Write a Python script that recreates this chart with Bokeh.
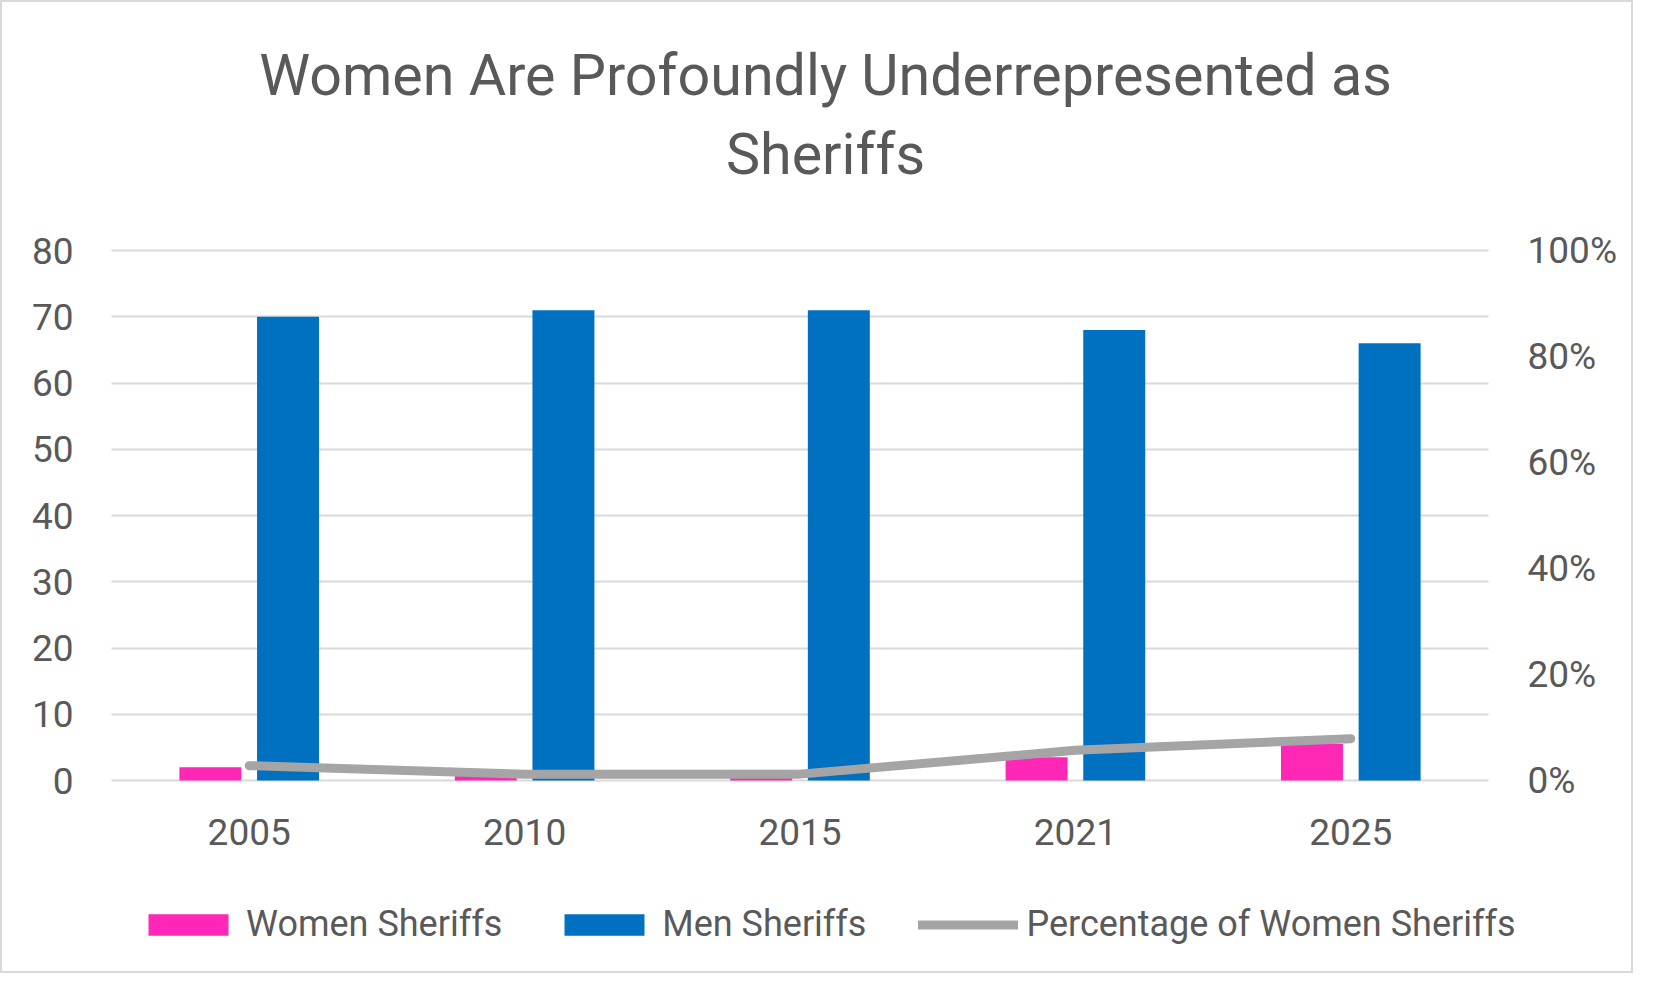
from bokeh.plotting import figure
from bokeh.models import (FactorRange, Range1d, LinearAxis, SingleIntervalTicker, Grid,
                          PrintfTickFormatter, Legend, LegendItem, Label, ColumnDataSource)
from bokeh.transform import dodge
from bokeh.embed import file_html
from bokeh.resources import INLINE

# ---- data ----
years = ["2005", "2010", "2015", "2021", "2025"]
women_sheriffs = [2, 1, 1, 3.5, 5.5]
men_sheriffs = [70, 71, 71, 68, 66]
pct_women = [2.8, 1.2, 1.2, 5.7, 7.9]
count_ticks = (0, 80, 10)   # start, end, step of the left axis
pct_ticks = (0, 100, 20)    # start, end, step of the right axis
title_lines = ["Women Are Profoundly Underrepresented as", "Sheriffs"]
series_names = ["Women Sheriffs", "Men Sheriffs", "Percentage of Women Sheriffs"]

FONT = "Roboto"
TXT = "#595959"
GRID = "#D9D9D9"
PINK = "#FF27B6"
BLUE = "#0070C0"
GREY = "#A5A5A5"

# ---- layout (pixels inside the figure) ----
W, H = 1633, 973
FRAME_L, FRAME_R, FRAME_T, FRAME_B = 72, 1523, 20, 960
PLOT_L, PLOT_R, PLOT_T, PLOT_B = 109, 1486, 248, 778   # area of the bars / grid
px_per_unit = (PLOT_B - PLOT_T) / (count_ticks[1] - count_ticks[0])
px_per_pct = (PLOT_B - PLOT_T) / (pct_ticks[1] - pct_ticks[0])
cat_px = (PLOT_R - PLOT_L) / len(years)
pad = (PLOT_L - FRAME_L) / cat_px

p = figure(width=W, height=H,
           x_range=FactorRange(factors=years, range_padding=pad, range_padding_units="absolute"),
           y_range=Range1d(count_ticks[0] - (FRAME_B - PLOT_B) / px_per_unit,
                           count_ticks[1] + (PLOT_T - FRAME_T) / px_per_unit),
           output_backend="svg", toolbar_location=None,
           min_border_left=FRAME_L, min_border_right=W - FRAME_R,
           min_border_top=FRAME_T, min_border_bottom=H - FRAME_B)
p.styles = {"border": "2px solid #D9D9D9"}
p.outline_line_color = None
p.background_fill_color = "white"
p.border_fill_color = "white"
p.extra_y_ranges = {"pct": Range1d(pct_ticks[0] - (FRAME_B - PLOT_B) / px_per_pct,
                                   pct_ticks[1] + (PLOT_T - FRAME_T) / px_per_pct)}

p.xgrid.grid_line_color = None
p.ygrid.grid_line_color = GRID
p.ygrid.grid_line_width = 2
if "cross_bounds" in Grid.properties():
    p.ygrid.cross_bounds = (0, len(years))


def style_axis(ax, standoff):
    ax.axis_line_color = None
    ax.major_tick_line_color = None
    ax.minor_tick_line_color = None
    ax.major_tick_out = 0
    ax.major_tick_in = 0
    ax.minor_tick_out = 0
    ax.major_label_text_font = FONT
    ax.major_label_text_font_size = "37px"
    ax.major_label_text_color = TXT
    ax.major_label_standoff = standoff


yl = p.yaxis[0]
yl.ticker = SingleIntervalTicker(interval=count_ticks[2])
yl.bounds = (count_ticks[0], count_ticks[1])
p.ygrid.ticker = yl.ticker
p.ygrid.bounds = (count_ticks[0], count_ticks[1])
style_axis(yl, 1)

yr = LinearAxis(y_range_name="pct", ticker=SingleIntervalTicker(interval=pct_ticks[2]),
                formatter=PrintfTickFormatter(format="%d%%"),
                bounds=(pct_ticks[0], pct_ticks[1]))
style_axis(yr, 2)
p.add_layout(yr, "right")

xa = p.xaxis[0]
xa.fixed_location = 0
style_axis(xa, 38)

rw = p.vbar(x=dodge("year", -0.141, range=p.x_range), top="women", width=0.225,
            source=ColumnDataSource(dict(year=years, women=women_sheriffs)),
            fill_color=PINK, line_color=None)
rm = p.vbar(x=dodge("year", 0.141, range=p.x_range), top="men", width=0.225,
            source=ColumnDataSource(dict(year=years, men=men_sheriffs)),
            fill_color=BLUE, line_color=None)
rl = p.line(x="year", y="pct", source=ColumnDataSource(dict(year=years, pct=pct_women)),
            y_range_name="pct", line_color=GREY, line_width=9,
            line_cap="round", line_join="round")

# legend (inside the frame, below the category labels)
LEG_X, LEG_CY, LEG_H = 136, 922, 60
legend = Legend(items=[LegendItem(label=series_names[0], renderers=[rw]),
                       LegendItem(label=series_names[1], renderers=[rm]),
                       LegendItem(label=series_names[2], renderers=[rl])],
                orientation="horizontal",
                location=(LEG_X - FRAME_L, FRAME_B - LEG_CY - LEG_H // 2),
                glyph_width=100, glyph_height=27, label_height=LEG_H, label_standoff=8,
                spacing=52, padding=0, margin=0, border_line_color=None,
                background_fill_alpha=0, label_text_font=FONT,
                label_text_font_size="36px", label_text_color=TXT)
p.add_layout(legend, "center")

# two-line title
TITLE_CX = 823
for txt, cy in zip(title_lines, [73, 152]):
    p.add_layout(Label(x=TITLE_CX - FRAME_L, y=FRAME_B - cy, x_units="screen", y_units="screen",
                       text=txt, text_align="center", text_baseline="middle", text_font=FONT,
                       text_font_size="57.4px", text_color=TXT))

open("out.html", "w").write(file_html(p, INLINE))
